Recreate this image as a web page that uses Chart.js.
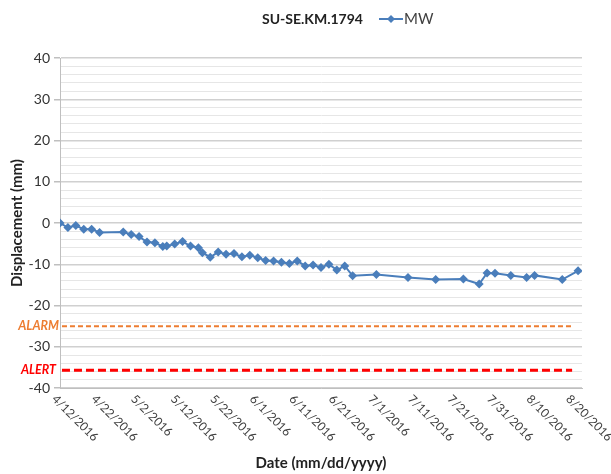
<!DOCTYPE html>
<html>
<head>
<meta charset="utf-8">
<script src="https://cdn.jsdelivr.net/npm/chart.js@4/dist/chart.umd.min.js"></script>
<style>
  html, body { margin: 0; padding: 0; background: #fff; }
  #wrap { width: 611px; height: 474px; }
</style>
</head>
<body>
<div id="wrap"><canvas id="chart" width="611" height="474"></canvas></div>
<script>
// Data
const startDate = '4/12/2016';
const dates = [
  '4/12/2016', '4/14/2016', '4/16/2016', '4/18/2016', '4/20/2016', '4/22/2016',
  '4/28/2016', '4/30/2016', '5/2/2016', '5/4/2016', '5/6/2016', '5/8/2016',
  '5/9/2016', '5/11/2016', '5/13/2016', '5/15/2016', '5/17/2016', '5/18/2016',
  '5/20/2016', '5/22/2016', '5/24/2016', '5/26/2016', '5/28/2016', '5/30/2016',
  '6/1/2016', '6/3/2016', '6/5/2016', '6/7/2016', '6/9/2016', '6/11/2016',
  '6/13/2016', '6/15/2016', '6/17/2016', '6/19/2016', '6/21/2016', '6/23/2016',
  '6/25/2016', '7/1/2016', '7/9/2016', '7/16/2016', '7/23/2016', '7/27/2016',
  '7/29/2016', '7/31/2016', '8/4/2016', '8/8/2016', '8/10/2016', '8/17/2016',
  '8/21/2016'
];
const mwValues = [
  0, -1.1, -0.6, -1.5, -1.5, -2.3,
  -2.2, -2.8, -3.3, -4.6, -4.8, -5.7,
  -5.6, -5.1, -4.5, -5.6, -6.0, -7.2,
  -8.3, -7.0, -7.6, -7.4, -8.2, -7.8,
  -8.4, -9.1, -9.2, -9.5, -9.8, -9.2,
  -10.4, -10.2, -10.8, -10.0, -11.4, -10.4,
  -12.8, -12.5, -13.2, -13.7, -13.6, -14.8,
  -12.1, -12.2, -12.7, -13.2, -12.7, -13.7,
  -11.6
];
const xTickLabels = [
  '4/12/2016', '4/22/2016', '5/2/2016', '5/12/2016', '5/22/2016', '6/1/2016',
  '6/11/2016', '6/21/2016', '7/1/2016', '7/11/2016', '7/21/2016', '7/31/2016',
  '8/10/2016', '8/20/2016'
];
const axisEndDate = '8/22/2016';
const alarmLevel = -25;
const alertLevel = -35.7;
const thresholdDates = ['4/12/2016', '8/19/2016'];

// Helpers
function dayOf(str) {
  const [m, d, y] = str.split('/').map(Number);
  const [m0, d0, y0] = startDate.split('/').map(Number);
  return Math.round((Date.UTC(y, m - 1, d) - Date.UTC(y0, m0 - 1, d0)) / 86400000);
}

const FONT = "Lato, 'Noto Sans', sans-serif";
const blue = '#4A7EBB';

const mwPoints = dates.map((d, i) => ({ x: dayOf(d), y: mwValues[i] }));
const alarmPoints = thresholdDates.map((d, i) => ({ x: dayOf(d) + (i === 0 ? 0.5 : 0.7), y: alarmLevel }));
const alertPoints = thresholdDates.map((d, i) => ({ x: dayOf(d) + 0.5, y: alertLevel }));

// Draws the title, legend, rotated date labels, axis titles and threshold labels
const decorations = {
  id: 'decorations',
  afterDraw(chart) {
    const ctx = chart.ctx;
    const xs = chart.scales.x;
    const ys = chart.scales.y;
    const area = chart.chartArea;
    ctx.save();

    // title + legend
    ctx.fillStyle = '#222';
    ctx.font = 'bold 14px ' + FONT;
    ctx.textBaseline = 'middle';
    ctx.textAlign = 'left';
    const title = 'SU-SE.KM.1794';
    const tw = ctx.measureText(title).width;
    const tx = 262;
    ctx.fillText(title, tx, 19);
    const lx = tx + tw + 16;
    ctx.strokeStyle = blue;
    ctx.lineWidth = 2;
    ctx.beginPath();
    ctx.moveTo(lx, 19);
    ctx.lineTo(lx + 24, 19);
    ctx.stroke();
    ctx.fillStyle = blue;
    ctx.beginPath();
    ctx.moveTo(lx + 12, 15);
    ctx.lineTo(lx + 16, 19);
    ctx.lineTo(lx + 12, 23);
    ctx.lineTo(lx + 8, 19);
    ctx.closePath();
    ctx.fill();
    ctx.fillStyle = '#404040';
    ctx.font = '15px ' + FONT;
    ctx.fillText('MW', lx + 25, 19);

    // rotated x tick labels
    ctx.fillStyle = '#404040';
    ctx.font = '12px ' + FONT;
    xTickLabels.forEach(lbl => {
      const px = xs.getPixelForValue(dayOf(lbl));
      ctx.save();
      ctx.translate(px - 6, area.bottom + 9);
      ctx.rotate(Math.PI / 4);
      ctx.textAlign = 'left';
      ctx.textBaseline = 'middle';
      ctx.fillText(lbl, 0, 0);
      ctx.restore();
    });

    // axis titles
    ctx.fillStyle = '#222';
    ctx.font = 'bold 15px ' + FONT;
    ctx.textAlign = 'center';
    ctx.fillText('Date (mm/dd/yyyy)', (area.left + area.right) / 2, 463);
    ctx.save();
    ctx.translate(17, (area.top + area.bottom) / 2);
    ctx.rotate(-Math.PI / 2);
    ctx.fillText('Displacement (mm)', 0, 0);
    ctx.restore();

    // threshold labels
    ctx.font = 'italic bold 12.5px ' + FONT;
    ctx.textAlign = 'right';
    ctx.fillStyle = '#ED7D31';
    ctx.fillText('ALARM', area.left - 1, ys.getPixelForValue(alarmLevel));
    ctx.fillStyle = '#FF0000';
    ctx.fillText('ALERT', area.left - 4, ys.getPixelForValue(alertLevel));

    ctx.restore();
  }
};

const ctx = document.getElementById('chart').getContext('2d');
new Chart(ctx, {
  type: 'line',
  data: {
    datasets: [
      {
        label: 'MW',
        data: mwPoints,
        borderColor: blue,
        backgroundColor: blue,
        borderWidth: 2,
        pointStyle: 'rectRot',
        pointRadius: 4.5,
        pointBorderWidth: 0,
        tension: 0
      },
      {
        label: 'ALARM',
        data: alarmPoints,
        borderColor: '#ED7D31',
        borderWidth: 2,
        borderDash: [5, 3],
        pointRadius: 0
      },
      {
        label: 'ALERT',
        data: alertPoints,
        borderColor: '#FF0000',
        borderWidth: 3,
        borderDash: [8, 4],
        pointRadius: 0
      }
    ]
  },
  options: {
    responsive: false,
    animation: false,
    layout: { padding: { top: 58, right: 29, left: 0, bottom: 0 } },
    plugins: {
      legend: { display: false },
      tooltip: { enabled: false }
    },
    scales: {
      x: {
        type: 'linear',
        min: 0,
        max: dayOf(axisEndDate),
        grid: { display: false, drawTicks: false },
        border: { color: '#BFBFBF' },
        ticks: { display: false },
        afterFit: scale => { scale.height = 86; }
      },
      y: {
        min: -40,
        max: 40,
        grid: {
          color: c => (c.tick && c.tick.value % 10 === 0) ? '#D0D0D0' : '#E6E6E6',
          lineWidth: c => (c.tick && c.tick.value % 10 === 0) ? 1.5 : 1,
          tickColor: c => (c.tick && c.tick.value % 10 === 0) ? '#BFBFBF' : 'rgba(0,0,0,0)',
          tickLength: 6
        },
        border: { color: '#BFBFBF' },
        ticks: {
          stepSize: 2,
          autoSkip: false,
          padding: 4,
          color: '#333',
          font: { family: FONT, size: 14 },
          callback: v => (v % 10 === 0 ? v : '')
        },
        afterFit: scale => { scale.width = 60; }
      }
    }
  },
  plugins: [decorations]
});
</script>
</body>
</html>
